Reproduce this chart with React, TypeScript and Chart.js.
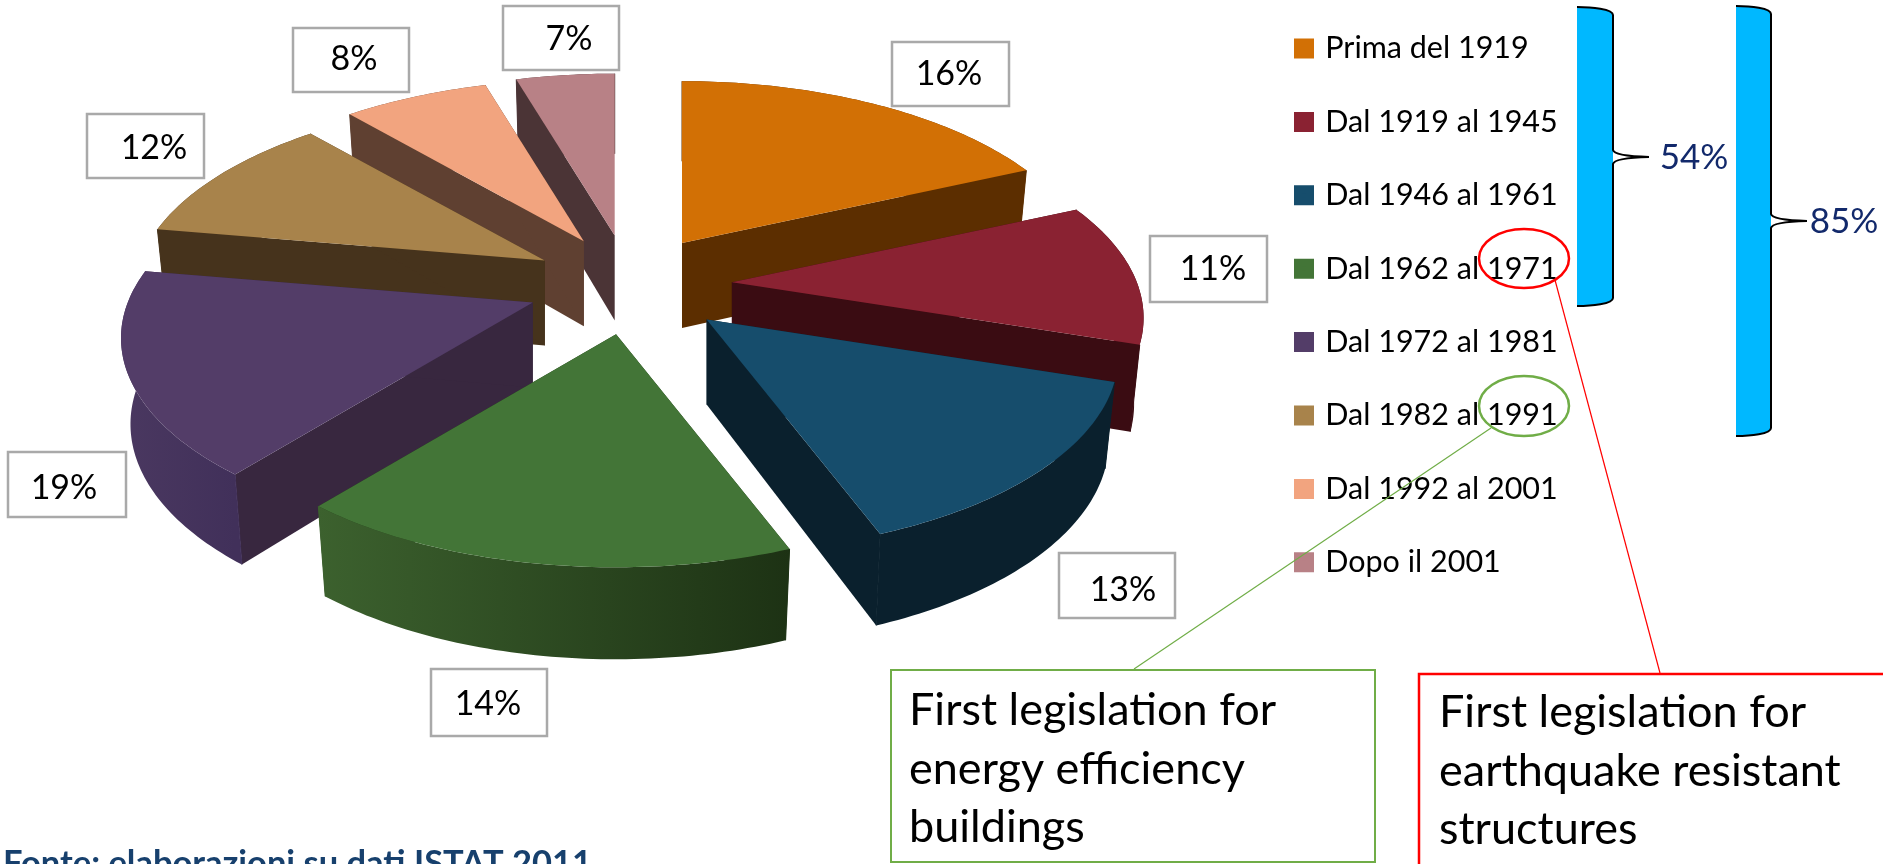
import React, { useEffect, useRef } from "react";
import { Chart, registerables } from "chart.js";

Chart.register(...registerables);

const FONT = "Lato";

// Categories and the percentages printed in the reference's label boxes.
const categories = [
  "Prima del 1919",
  "Dal 1919 al 1945",
  "Dal 1946 al 1961",
  "Dal 1962 al 1971",
  "Dal 1972 al 1981",
  "Dal 1982 al 1991",
  "Dal 1992 al 2001",
  "Dopo il 2001",
];
const printedPercents = [16, 11, 13, 14, 19, 12, 8, 7];

// The reference's wedges are not proportional to its printed labels, so the
// two are kept apart: these set the angles, printedPercents sets the text.
const drawnShares = [18.3, 11.7, 14.2, 16.7, 16.8, 10.9, 6.8, 4.6];

const topColors = ["#D27005", "#8A2232", "#164D6C", "#437537", "#533D68", "#A8834B", "#F2A47F", "#B88186"];
const sideColors = ["#5C2E00", "#3A0C12", "#0A202D", "#1F3515", "#38273F", "#46331C", "#5F4031", "#4B3436"];
const rimLeftColors = ["#5C2E00", "#3A0C12", "#0A202D", "#3C612E", "#4A3860", "#46331C", "#5F4031", "#4B3436"];
const rimRightColors = ["#5C2E00", "#3A0C12", "#0A202D", "#1D3214", "#41305A", "#46331C", "#5F4031", "#4B3436"];

// How far each wedge is pulled out sideways.
const explodeX = [92, 100, 103, 100, 106, 100, 100, 120];

// Label boxes: left, top, right, bottom, text centre x, text centre y.
const labelBoxes = [
  [892, 42, 1009, 106, 949, 74],
  [1150, 236, 1267, 302, 1213, 269],
  [1059, 553, 1175, 618, 1123, 590],
  [431, 669, 547, 736, 488, 704],
  [8, 452, 126, 517, 64, 488],
  [87, 114, 204, 178, 154, 148],
  [293, 28, 409, 92, 354, 59],
  [503, 6, 619, 70, 569, 39],
];

const braceTotals = ["54%", "85%"];
const greenNote = ["First legislation for", "energy efficiency", "buildings"];
const redNote = ["First legislation for", "earthquake resistant", "structures"];
const sourceNote = "Fonte: elaborazioni su dati ISTAT 2011";

// Camera for the tilted pie (a perspective view of the unit circle).
const PIE = {
  cx: 632, cy: 285, // common centre before the explosion
  a: 405, b: 191, k: 0.18, // horizontal reach, vertical reach, perspective
  explodeY: 50,
  depth: 85, bottomScaleX: 0.977, bottomScaleY: 1.03,
};

function project(theta: number, rho: number) {
  const u = rho * Math.sin(theta);
  const v = -rho * Math.cos(theta);
  const w = 1 - PIE.k * v;
  return { x: (PIE.a * u) / w, y: (PIE.b * v) / w };
}

function drawPie(chart: any) {
  const { ctx } = chart;
  const arcs = chart.getDatasetMeta(0).data;
  const slices = arcs.map((arc: any, i: number) => {
    const t0 = arc.startAngle + Math.PI / 2;
    const t1 = arc.endAngle + Math.PI / 2;
    const mid = (t0 + t1) / 2;
    return {
      i, t0, t1, mid,
      ax: PIE.cx + explodeX[i] * Math.sin(mid),
      ay: PIE.cy - PIE.explodeY * Math.cos(mid),
    };
  });
  // Painter's order: the wedges farthest from the viewer first.
  slices.sort((p: any, q: any) => -Math.cos(p.mid) - -Math.cos(q.mid));

  for (const s of slices) {
    const top = (t: number, r = 1) => {
      const p = project(t, r);
      return { x: s.ax + p.x, y: s.ay + p.y };
    };
    const bottom = (t: number, r = 1) => {
      const p = project(t, r);
      return {
        x: s.ax + p.x * PIE.bottomScaleX,
        y: s.ay + PIE.depth + p.y * PIE.bottomScaleY,
      };
    };
    const n = Math.max(2, Math.ceil(((s.t1 - s.t0) * 180) / Math.PI));
    const angles: number[] = [];
    for (let j = 0; j <= n; j++) angles.push(s.t0 + ((s.t1 - s.t0) * j) / n);

    // radial walls
    ctx.fillStyle = sideColors[s.i];
    for (const t of [s.t0, s.t1]) {
      const p1 = top(t), p2 = bottom(t);
      ctx.beginPath();
      ctx.moveTo(s.ax, s.ay);
      ctx.lineTo(p1.x, p1.y);
      ctx.lineTo(p2.x, p2.y);
      ctx.lineTo(s.ax, s.ay + PIE.depth);
      ctx.closePath();
      ctx.fill();
    }

    // outer wall
    const xs = angles.map((t) => top(t).x);
    const grad = ctx.createLinearGradient(Math.min(...xs), 0, Math.max(...xs), 0);
    grad.addColorStop(0, rimLeftColors[s.i]);
    grad.addColorStop(1, rimRightColors[s.i]);
    ctx.fillStyle = grad;
    ctx.beginPath();
    angles.forEach((t, j) => {
      const p = top(t);
      if (j === 0) ctx.moveTo(p.x, p.y);
      else ctx.lineTo(p.x, p.y);
    });
    [...angles].reverse().forEach((t) => {
      const p = bottom(t);
      ctx.lineTo(p.x, p.y);
    });
    ctx.closePath();
    ctx.fill();

    // close the hairline seam where the outer wall meets a radial wall
    ctx.strokeStyle = grad;
    ctx.lineWidth = 1;
    for (const t of [s.t0, s.t1]) {
      const p1 = top(t), p2 = bottom(t);
      ctx.beginPath();
      ctx.moveTo(p1.x, p1.y);
      ctx.lineTo(p2.x, p2.y);
      ctx.stroke();
    }

    // top face
    ctx.fillStyle = topColors[s.i];
    ctx.beginPath();
    ctx.moveTo(s.ax, s.ay);
    angles.forEach((t) => {
      const p = top(t);
      ctx.lineTo(p.x, p.y);
    });
    ctx.closePath();
    ctx.fill();
  }
}

function drawBrace(ctx: any, l: number, r: number, yTop: number, yBot: number, tipX: number, tipY: number) {
  ctx.beginPath();
  ctx.moveTo(l, yTop);
  ctx.bezierCurveTo(l + 14, yTop, r, yTop + 2, r, yTop + 8);
  ctx.lineTo(r, yBot - 8);
  ctx.bezierCurveTo(r, yBot - 2, l + 14, yBot, l, yBot);
  ctx.closePath();
  ctx.fillStyle = "#00B8FF";
  ctx.fill();

  ctx.beginPath();
  ctx.moveTo(l, yTop);
  ctx.bezierCurveTo(l + 14, yTop, r, yTop + 2, r, yTop + 8);
  ctx.lineTo(r, tipY - 7);
  ctx.quadraticCurveTo(r + 1, tipY - 1, tipX, tipY);
  ctx.quadraticCurveTo(r + 1, tipY + 1, r, tipY + 7);
  ctx.lineTo(r, yBot - 8);
  ctx.bezierCurveTo(r, yBot - 2, l + 14, yBot, l, yBot);
  ctx.lineWidth = 2;
  ctx.strokeStyle = "#000000";
  ctx.stroke();
}

function drawAnnotations(chart: any) {
  const { ctx } = chart;
  ctx.save();

  // grey label boxes
  ctx.textAlign = "center";
  ctx.textBaseline = "middle";
  labelBoxes.forEach(([l, t, r, b, tx, ty], i) => {
    ctx.fillStyle = "#FFFFFF";
    ctx.fillRect(l, t, r - l, b - t);
    ctx.lineWidth = 2.5;
    ctx.strokeStyle = "#A9A9A9";
    ctx.strokeRect(l, t, r - l, b - t);
    ctx.fillStyle = "#000000";
    ctx.font = `34px ${FONT}`;
    ctx.fillText(`${printedPercents[i]}%`, tx, ty);
  });

  // braces and totals
  drawBrace(ctx, 1577, 1613, 7, 306, 1649, 157);
  drawBrace(ctx, 1736, 1771, 6, 436, 1807, 221);
  ctx.fillStyle = "#12296B";
  ctx.font = `35px ${FONT}`;
  ctx.fillText(braceTotals[0], 1694, 158);
  ctx.fillText(braceTotals[1], 1844, 222);

  // red highlight and its note
  ctx.strokeStyle = "#FF0000";
  ctx.lineWidth = 2.5;
  ctx.beginPath();
  ctx.ellipse(1524, 258.5, 45, 29.5, 0, 0, Math.PI * 2);
  ctx.stroke();
  ctx.lineWidth = 1.2;
  ctx.beginPath();
  ctx.moveTo(1555, 280);
  ctx.lineTo(1660, 673);
  ctx.stroke();
  ctx.lineWidth = 2.5;
  ctx.beginPath();
  ctx.moveTo(1419, 870);
  ctx.lineTo(1419, 674);
  ctx.lineTo(1890, 674);
  ctx.stroke();

  // green highlight and its note
  ctx.strokeStyle = "#70AD47";
  ctx.lineWidth = 2.5;
  ctx.beginPath();
  ctx.ellipse(1524, 406, 45, 30, 0, 0, Math.PI * 2);
  ctx.stroke();
  ctx.lineWidth = 1.2;
  ctx.beginPath();
  ctx.moveTo(1491, 428);
  ctx.lineTo(1134, 669);
  ctx.stroke();
  ctx.lineWidth = 2;
  ctx.strokeRect(891, 670, 484, 192);

  ctx.textAlign = "left";
  ctx.fillStyle = "#000000";
  ctx.font = `45px ${FONT}`;
  greenNote.forEach((line, i) => ctx.fillText(line, 909, [710, 769, 827][i]));
  redNote.forEach((line, i) => ctx.fillText(line, 1439, [712, 771, 829][i]));

  // source line, cut by the bottom of the page as in the reference
  ctx.textBaseline = "alphabetic";
  ctx.fillStyle = "#17406D";
  ctx.font = `bold 34.5px ${FONT}`;
  ctx.fillText(sourceNote, 3, 875);

  ctx.restore();
}

const piePlugin = {
  id: "tiltedPie",
  afterLayout(chart: any) {
    const lg = chart.legend;
    if (!lg) return;
    const pad = lg.options.labels.padding;
    const w = lg.right - lg.left;
    lg.left = 1298 - pad;
    lg.right = lg.left + w;
    const h = lg.bottom - lg.top;
    lg.top = 48.5 - lg.options.labels.font.size / 2 - pad;
    lg.bottom = lg.top + h;
  },
  beforeDatasetsDraw(chart: any) {
    drawPie(chart);
    return false;
  },
  afterDraw: drawAnnotations,
};

export default function App() {
  const ref = useRef<HTMLCanvasElement | null>(null);
  useEffect(() => {
    document.body.style.margin = "0";
    document.body.style.overflow = "hidden";
    const chart = new Chart(ref.current as HTMLCanvasElement, {
      type: "pie",
      data: {
        labels: categories,
        datasets: [
          {
            data: drawnShares,
            backgroundColor: topColors,
            // the wedges are painted by the plugin; this border only widens the legend swatches
            borderColor: topColors,
            borderWidth: 8,
          },
        ],
      },
      options: {
        responsive: false,
        animation: false,
        devicePixelRatio: 1,
        plugins: {
          tooltip: { enabled: false },
          legend: {
            position: "right",
            align: "start",
            labels: {
              boxWidth: 12,
              boxHeight: 12,
              padding: 42.9,
              color: "#000000",
              font: { family: FONT, size: 30.5 },
            },
          },
        },
      },
      plugins: [piePlugin],
    } as any);
    return () => chart.destroy();
  }, []);
  return <canvas ref={ref} width={1883} height={864} style={{ display: "block" }} />;
}
